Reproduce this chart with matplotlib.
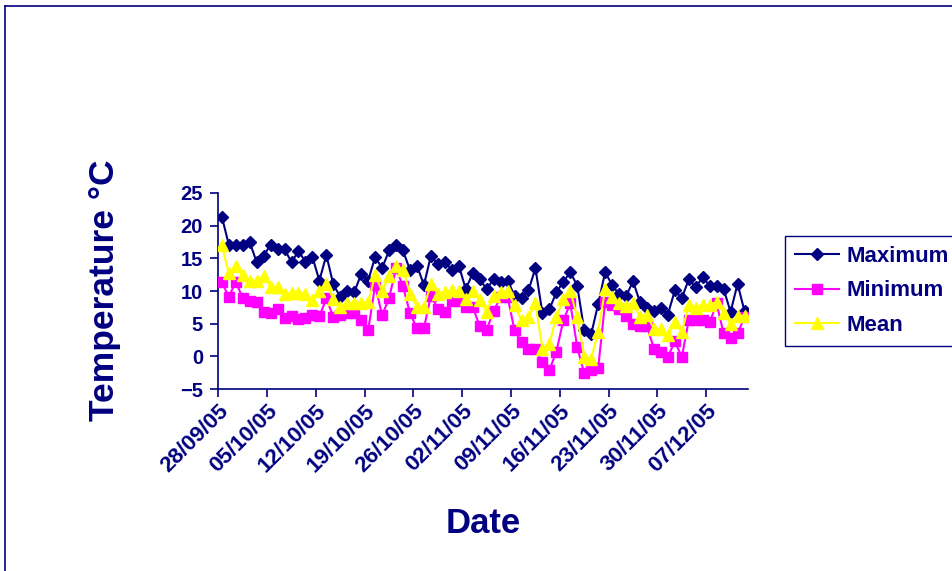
import matplotlib
matplotlib.use("Agg")
import matplotlib.pyplot as plt
import matplotlib.dates as mdates
from matplotlib.lines import Line2D
import pandas as pd

plt.rcParams['font.family'] = ['Liberation Sans', 'DejaVu Sans']

# Daily air temperatures, 28/09/05 onwards
start_date = "2005-09-28"
maximum = [21.4, 17.1, 17.1, 17.0, 17.5, 14.4, 15.4, 17.1, 16.4, 16.4,
           14.4, 16.1, 14.5, 15.2, 11.6, 15.5, 11.0, 9.1, 10.0, 9.8,
           12.6, 11.6, 15.2, 13.5, 16.2, 17.0, 16.2, 13.2, 13.9, 10.9,
           15.4, 14.1, 14.5, 13.2, 13.9, 10.3, 12.7, 11.8, 10.3, 11.8,
           11.4, 11.6, 9.3, 8.9, 10.1, 13.5, 6.6, 7.2, 9.8, 11.4,
           12.9, 10.8, 4.0, 3.4, 8.0, 12.9, 10.9, 9.5, 9.2, 11.5,
           8.3, 7.4, 6.9, 7.4, 6.4, 10.1, 8.9, 11.8, 10.6, 12.1,
           10.8, 10.8, 10.3, 6.8, 11.1, 6.9]
minimum = [11.4, 9.1, 11.4, 8.9, 8.4, 8.3, 6.8, 6.6, 7.3, 5.9,
           6.2, 5.7, 5.9, 6.3, 6.1, 8.9, 6.0, 6.3, 6.6, 6.7,
           5.6, 4.0, 10.9, 6.3, 8.9, 13.5, 10.7, 6.6, 4.3, 4.3,
           9.3, 7.3, 6.8, 8.4, 8.5, 7.6, 7.6, 4.6, 4.1, 6.9,
           9.1, 9.1, 4.0, 2.2, 1.2, 1.2, -0.9, -2.1, 0.7, 5.5,
           8.1, 1.4, -2.6, -2.1, -1.8, 8.3, 7.9, 7.2, 6.2, 5.0,
           4.6, 4.6, 1.2, 0.7, -0.1, 2.3, -0.1, 5.5, 5.5, 5.5,
           5.2, 8.1, 3.5, 2.8, 3.5, 6.0]
mean = [17.0, 12.7, 13.9, 12.4, 11.6, 11.6, 12.3, 10.6, 10.6, 9.6,
        9.7, 9.7, 9.6, 8.6, 10.0, 11.0, 8.8, 7.6, 8.1, 8.1,
        8.2, 8.3, 12.4, 10.0, 12.3, 13.9, 13.2, 9.6, 7.6, 7.6,
        11.0, 9.6, 9.8, 10.1, 10.0, 8.8, 10.0, 8.6, 6.8, 9.3,
        9.8, 10.0, 7.8, 5.5, 6.0, 8.1, 1.2, 1.9, 6.0, 8.8,
        10.0, 6.0, -0.1, -0.4, 3.7, 10.3, 9.1, 8.1, 7.7, 8.2,
        6.0, 6.3, 4.2, 4.2, 3.2, 5.2, 3.7, 7.8, 7.4, 7.8,
        7.9, 8.3, 6.7, 5.0, 6.2, 6.2]
y_ticks = [-5, 0, 5, 10, 15, 20, 25]

navy = "#000080"
days = pd.date_range(start_date, periods=len(maximum), freq="D")
x = days + pd.Timedelta(hours=12)

fig = plt.figure(figsize=(9.53, 5.71), dpi=100)
ax = fig.add_axes([0.2291, 0.3187, 0.5558, 0.3433])

ax.plot(x, maximum, color=navy, marker='D', ms=6.5, lw=1.5, label='Maximum', zorder=3)
ax.plot(x, minimum, color='#FF00FF', marker='s', ms=7, lw=1.5, label='Minimum', zorder=4)
ax.plot(x, mean, color='#FFFF00', marker='^', ms=8, lw=1.5, label='Mean', zorder=5)

ax.set_xlim(days[0], days[-1] + pd.Timedelta(days=1))
ax.set_ylim(-5, 25)
ax.set_yticks(y_ticks)
ax.set_xticks(pd.date_range(start_date, days[-1], freq="7D"))
ax.xaxis.set_major_formatter(mdates.DateFormatter("%d/%m/%y"))

for s in ("top", "right"):
    ax.spines[s].set_visible(False)
for s in ("left", "bottom"):
    ax.spines[s].set_color(navy)
    ax.spines[s].set_linewidth(1.2)

ax.tick_params(axis='both', direction='out', length=6, width=1.2, color=navy,
               labelcolor=navy)
ax.tick_params(axis='y', labelsize=14.5, pad=5)
ax.tick_params(axis='x', labelsize=16, pad=2)
for lab in ax.get_yticklabels():
    lab.set_fontweight('bold')
for lab in ax.get_xticklabels():
    lab.set_fontweight('bold')
    lab.set_rotation(45)
    lab.set_ha('right')
    lab.set_rotation_mode('anchor')

fig.text(0.110, 0.492, "Temperature °C", rotation=90, ha='center', va='center',
         fontsize=25.5, fontweight='bold', color=navy)
fig.text(0.507, 0.084, "Date", ha='center', va='center',
         fontsize=25, fontweight='bold', color=navy)

leg = fig.legend(loc='upper left', bbox_to_anchor=(785 / 953, 1 - 236 / 571),
                 borderaxespad=0.0,
                 prop={'weight': 'bold', 'size': 16}, labelcolor=navy,
                 frameon=True, fancybox=False, framealpha=1, edgecolor=navy,
                 handlelength=2.0, labelspacing=0.6, borderpad=0.45,
                 handletextpad=0.3)
leg.get_frame().set_linewidth(1.0)

# outer frame
fig.add_artist(Line2D([5 / 953, 1.0], [1 - 6 / 571, 1 - 6 / 571],
                      transform=fig.transFigure, color=navy, lw=1.2))
fig.add_artist(Line2D([5 / 953, 5 / 953], [0.0, 1 - 6 / 571],
                      transform=fig.transFigure, color=navy, lw=1.2))

fig.savefig("out.png", dpi=100)
